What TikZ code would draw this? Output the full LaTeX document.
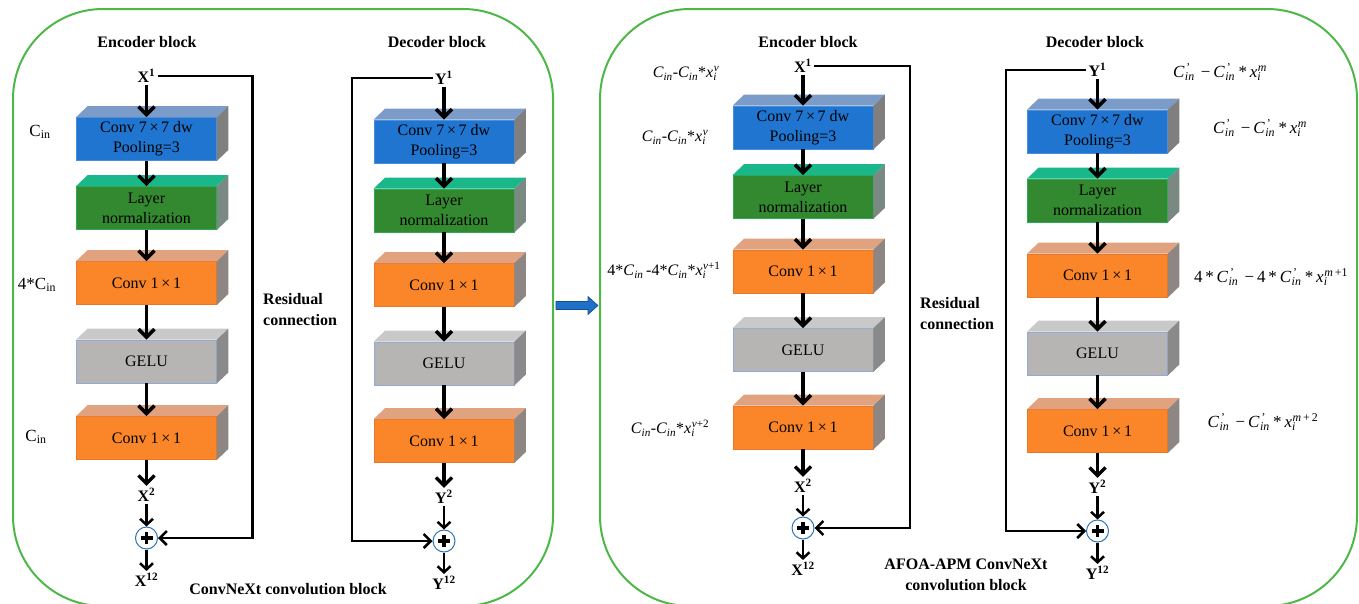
\documentclass[tikz,border=0pt]{standalone}
\usepackage{fontspec}
\setmainfont{Liberation Serif}
\usepackage{xcolor}
\usetikzlibrary{calc,arrows.meta,positioning}
\definecolor{panelg}{HTML}{4DB848}
\definecolor{frontcb}{HTML}{1F75D0}
\definecolor{topcb}{HTML}{7B9CC9}
\definecolor{sidecb}{HTML}{7F7F7F}
\definecolor{edgecb}{HTML}{4A8FDB}
\definecolor{frontln}{HTML}{33892F}
\definecolor{topln}{HTML}{1AB78A}
\definecolor{sideln}{HTML}{7A8A82}
\definecolor{edgeln}{HTML}{2DAA55}
\definecolor{frontco}{HTML}{FB8529}
\definecolor{topco}{HTML}{E1A27F}
\definecolor{sideco}{HTML}{8E8682}
\definecolor{edgeco}{HTML}{E8782C}
\definecolor{frontge}{HTML}{B7B4B4}
\definecolor{topge}{HTML}{C9C9C9}
\definecolor{sidege}{HTML}{8A8A8A}
\definecolor{edgege}{HTML}{90ABD6}
\definecolor{plusb}{HTML}{2E75B6}
\definecolor{bigarr}{HTML}{1F70C8}
\newcommand{\cin}{\textit{C}\textsubscript{\textit{in}}}
\newcommand{\cinp}{\textit{C}\textsuperscript{\makebox[0pt][l]{\,'}}\textsubscript{\textit{in}}\hspace{0.2em}}
\newcommand{\xis}[1]{\textit{x}\textsubscript{\makebox[0pt][l]{\textit{i}}}\textsuperscript{#1}}
\newcommand{\mns}{\,\symbol{"2212}\,}
\tikzset{
  panel/.style={draw=panelg,line width=2pt,rounded corners=90pt},
  blk/.style={minimum width=140pt,minimum height=43pt,inner sep=0pt,align=center,font=\fontsize{16}{20}\selectfont,line width=0.8pt},
  hd/.style={font=\bfseries\fontsize{16}{21}\selectfont,inner sep=1pt},
  lab/.style={font=\bfseries\fontsize{16}{18}\selectfont,inner sep=2pt},
  fml/.style={font=\fontsize{16}{18}\selectfont,inner sep=1pt},
  fmlb/.style={font=\fontsize{17}{19}\selectfont,inner sep=1pt},
  ar/.style={-{Straight Barb[length=8pt,width=16pt]},line width=3.5pt},
  ars/.style={-{Straight Barb[length=6pt,width=13pt]},line width=2.5pt},
  res/.style={-{Straight Barb[length=7pt,width=14pt]},line width=2.5pt},
  sumnode/.style={circle,draw=plusb,line width=1pt,fill=white,minimum size=22pt,inner sep=0pt,
    path picture={
      \draw[black,line width=3.2pt] ([xshift=-6pt]path picture bounding box.center) -- ([xshift=6pt]path picture bounding box.center);
      \draw[black,line width=3.2pt] ([yshift=-6pt]path picture bounding box.center) -- ([yshift=6pt]path picture bounding box.center);}}
}
\begin{document}
\begin{tikzpicture}[x=1pt,y=-1pt]
\useasboundingbox (0,0) rectangle (1359,603);
\draw[panel] (13,9) rectangle (553,606);
\draw[panel] (600,9) rectangle (1357,606);
% the two columns of each panel
\foreach \col/\cx/\ya/\yb/\yc/\yd/\ye/\lt/\la/\lb/\ls/\le in {
  a/146.5/139/208/283/361.5/438/X/76/495/538/580,
  b/444/141.5/210.5/285/363.5/441/Y/78/497/541/583,
  c/803/127.5/197/271.5/350/427.5/X/66/486/528/569,
  d/1097.5/131.5/200.5/275.5/353.5/431/Y/70/487/531/573}{
  \node[blk,fill=frontcb,draw=edgecb] (\col1) at (\cx,\ya) {Conv 7\,\texttimes\,7 dw\\Pooling=3};
  \node[blk,fill=frontln,draw=edgeln] (\col2) at (\cx,\yb) {Layer\\normalization};
  \node[blk,fill=frontco,draw=edgeco] (\col3) at (\cx,\yc) {Conv 1\,\texttimes\,1};
  \node[blk,fill=frontge,draw=edgege] (\col4) at (\cx,\yd) {GELU};
  \node[blk,fill=frontco,draw=edgeco] (\col5) at (\cx,\ye) {Conv 1\,\texttimes\,1};
  \foreach \i/\ty in {1/cb,2/ln,3/co,4/ge,5/co}{
    \fill[top\ty] (\col\i.north west) -- ++(11.5,-11) -- ($(\col\i.north east)+(11.5,-11)$) -- (\col\i.north east) -- cycle;
    \fill[side\ty] (\col\i.north east) -- ++(11.5,-11) -- ($(\col\i.south east)+(11.5,-11)$) -- (\col\i.south east) -- cycle;
  }
  \node[lab] (top\col) at (\cx,\la) {\lt\textsuperscript{1}};
  \node[lab] (mid\col) at (\cx,\lb) {\lt\textsuperscript{2}};
  \node[sumnode] (sum\col) at (\cx,\ls) {};
  \node[lab] (end\col) at (\cx,\le) {\lt\textsuperscript{12}};
  \draw[ar] (top\col) -- (\col1);
  \foreach \i/\j in {1/2,2/3,3/4,4/5}{\draw[ar] (\col\i) -- (\col\j);}
  \draw[ar] (\col5) -- (mid\col);
  \draw[ars] (mid\col) -- (sum\col);
  \draw[ars] (sum\col) -- (end\col);
}
% residual connections
\coordinate (ra) at (252.5,538);
\coordinate (rb) at (352,541);
\coordinate (rc) at (910,528);
\coordinate (rd) at (1006,531);
\draw[res] (topa.east) -| (ra) -- (suma);
\draw[res] (topb.west) -| (rb) -- (sumb);
\draw[res] (topc.east) -| (rc) -- (sumc);
\draw[res] (topd.west) -| (rd) -- (sumd);
% titles
\node[hd] (hea) at (147,42) {Encoder block};
\node[hd] (heb) at (437,42) {Decoder block};
\node[hd] (hec) at (808,42) {Encoder block};
\node[hd] (hed) at (1095,42) {Decoder block};
\node[hd,align=left,anchor=west] (rla) at (262,310) {Residual\\connection};
\node[hd,align=left,anchor=west] (rlc) at (919,314) {Residual\\connection};
\node[hd] (ttla) at (288,589) {ConvNeXt convolution block};
\node[hd,align=center] (ttlc) at (966,575) {AFOA-APM ConvNeXt\\convolution block};
% channel labels
\node[fmlb] (fa1) at (40,132) {C\textsubscript{in}};
\node[fmlb] (fa3) at (37,285) {4*C\textsubscript{in}};
\node[fmlb] (fa5) at (36,437) {C\textsubscript{in}};
\node[fml] (fc0) at (686,73) {\cin-\cin*\xis{\textit{v}}};
\node[fml] (fc1) at (675,137) {\cin-\cin*\xis{\textit{v}}};
\node[fml] (fc3) at (664,270) {4*\cin\,-4*\cin*\xis{\textit{v}+1}};
\node[fml] (fc5) at (670,428) {\cin-\cin*\xis{\textit{v}+2}};
\node[fmlb] (fd0) at (1220,72) {\cinp\mns\cinp*\,\xis{\textit{m}}};
\node[fmlb] (fd1) at (1260,128) {\cinp\mns\cinp*\,\xis{\textit{m}}};
\node[fmlb] (fd3) at (1271,277) {4\,*\,\cinp\mns4\,*\,\cinp*\,\xis{\textit{m}\,+1}};
\node[fmlb] (fd5) at (1263,422) {\cinp\mns\cinp*\,\xis{\textit{m}\,+\,2}};
% arrow between the panels
\fill[bigarr,draw=bigarr!70!black,line width=0.6pt] (556,301.5) -- (588,301.5) -- (588,296.5) -- (598,305.5) -- (588,314.5) -- (588,309.5) -- (556,309.5) -- cycle;
\end{tikzpicture}
\end{document}
